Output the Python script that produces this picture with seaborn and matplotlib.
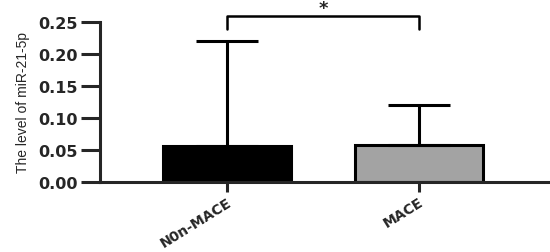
import pandas as pd
import seaborn as sns
import matplotlib
matplotlib.use('Agg')
from matplotlib import pyplot as plt

# 数据
groups = ['N0n-MACE', 'MACE']
means = [0.056, 0.058]
sd_up = [0.164, 0.063]
bar_colors = ['#000000', '#a3a3a3']
y_ticks = [0.00, 0.05, 0.10, 0.15, 0.20, 0.25]
y_label = 'The level of miR-21-5p'
sig_mark = '*'


def main():
    sns.set_style('ticks')
    plt.rcParams['font.family'] = ['DejaVu Sans']

    df = pd.DataFrame({'group': groups, 'level': means})

    fig = plt.figure(figsize=(5.5, 2.53), dpi=100)
    ax = fig.add_axes([0.182, 0.277, 0.814, 0.632])

    sns.barplot(data=df, x='group', y='level', hue='group', palette=bar_colors,
                width=0.667, edgecolor='black', linewidth=2.2, legend=False, ax=ax)

    # 只画向上的误差线
    ax.errorbar(range(len(groups)), means, yerr=[[0] * len(groups), sd_up],
                fmt='none', ecolor='black', elinewidth=2.2, capsize=22, capthick=2.2,
                zorder=1)

    ax.set_ylim(0, 0.25)
    ax.set_xlim(-0.661, 1.672)
    ax.set_yticks(y_ticks)
    ax.set_yticklabels(['{:.2f}'.format(v) for v in y_ticks],
                       fontsize=11.5, fontweight='bold')
    ax.set_xticks(range(len(groups)))
    ax.set_xticklabels(groups, rotation=32, ha='right', rotation_mode='anchor',
                       fontsize=10, fontweight='bold')
    ax.set_xlabel('')
    ax.set_ylabel(y_label, family=['Liberation Sans Narrow', 'Liberation Sans'],
                  fontsize=10, labelpad=6)

    sns.despine(ax=ax)
    for side in ['left', 'bottom']:
        ax.spines[side].set_linewidth(2.2)
    ax.tick_params(axis='y', length=14, width=2.2, pad=2)
    ax.tick_params(axis='x', length=7, width=2.2, pad=2)

    # 显著性标记
    y_top, y_drop = 0.259, 0.239
    ax.plot([0, 0, 1, 1], [y_drop, y_top, y_top, y_drop], color='black',
            linewidth=1.8, clip_on=False)
    ax.text(0.5, 0.272, sig_mark, ha='center', va='center',
            fontsize=13, fontweight='bold')

    fig.savefig('out.png', dpi=100)


if __name__ == '__main__':
    main()
